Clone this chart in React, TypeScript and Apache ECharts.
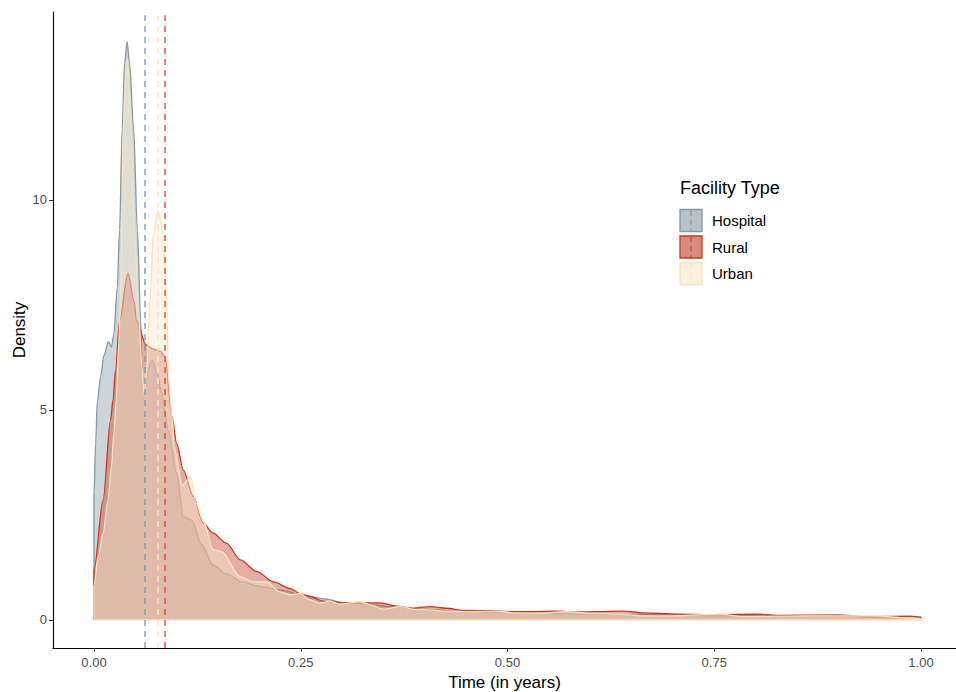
import React, { useEffect, useRef } from "react";
import * as echarts from "echarts";

// ---- data ----
const facilityTypes = ["Hospital", "Rural", "Urban"];

const hospitalX = [0, 0, 0.002, 0.004, 0.008, 0.012, 0.0175, 0.021, 0.024, 0.028, 0.031, 0.034, 0.037, 0.04, 0.043, 0.048, 0.0524, 0.0565, 0.058, 0.0605, 0.065, 0.07, 0.076, 0.082, 0.09, 0.1, 0.108, 0.118, 0.13, 0.144, 0.16, 0.18, 0.2, 0.23, 0.25, 0.28, 0.3, 0.33, 0.36, 0.4, 0.45, 0.5, 0.55, 0.6, 0.65, 0.7, 0.75, 0.8, 0.85, 0.9, 0.95, 1, 1];
const hospitalY = [0, 3.0, 4.2, 5.2, 5.8, 6.3, 6.63, 6.5, 6.8, 7.9, 9.3, 11.67, 13.26, 13.77, 13.26, 11.67, 9.29, 7.14, 5.95, 5.36, 5.9, 6.2, 5.9, 5.4, 4.5, 3.5, 2.46, 2.38, 1.8, 1.31, 1.1, 0.9, 0.8, 0.7, 0.6, 0.5, 0.42, 0.38, 0.32, 0.25, 0.2, 0.18, 0.15, 0.14, 0.13, 0.12, 0.1, 0.1, 0.09, 0.1, 0.06, 0.03, 0];

const ruralX = [0, 0, 0.011, 0.02, 0.023, 0.026, 0.031, 0.041, 0.049, 0.051, 0.063, 0.072, 0.08, 0.0859, 0.0943, 0.1, 0.108, 0.12, 0.132, 0.144, 0.16, 0.177, 0.197, 0.217, 0.237, 0.249, 0.261, 0.277, 0.298, 0.318, 0.346, 0.366, 0.386, 0.406, 0.426, 0.447, 0.479, 0.503, 0.527, 0.559, 0.584, 0.608, 0.64, 0.664, 0.705, 0.745, 0.802, 0.826, 0.898, 0.938, 0.987, 1, 1];
const ruralY = [0, 1.2, 2.86, 4.76, 5.24, 5.95, 7.14, 8.26, 7.55, 7.14, 6.55, 6.45, 6.4, 6.27, 4.85, 4.2, 3.57, 2.94, 2.31, 2.07, 1.83, 1.43, 1.15, 0.91, 0.75, 0.63, 0.56, 0.45, 0.41, 0.41, 0.41, 0.33, 0.28, 0.32, 0.28, 0.23, 0.22, 0.2, 0.2, 0.21, 0.19, 0.2, 0.21, 0.17, 0.14, 0.13, 0.14, 0.11, 0.12, 0.08, 0.09, 0.07, 0];

const urbanX = [0, 0, 0.005, 0.011, 0.017, 0.021, 0.024, 0.027, 0.03, 0.0323, 0.034, 0.0354, 0.0378, 0.0405, 0.045, 0.0491, 0.0544, 0.058, 0.0605, 0.064, 0.0677, 0.0717, 0.0774, 0.0838, 0.0879, 0.09, 0.095, 0.0967, 0.1068, 0.117, 0.1236, 0.1318, 0.1442, 0.1543, 0.1765, 0.193, 0.209, 0.225, 0.237, 0.249, 0.261, 0.273, 0.285, 0.297, 0.322, 0.334, 0.35, 0.37, 0.39, 0.406, 0.426, 0.455, 0.487, 0.507, 0.543, 0.572, 0.6, 0.636, 0.66, 0.7, 0.757, 0.785, 0.866, 0.938, 1, 1];
const urbanY = [0, 0.83, 1.5, 2.07, 2.86, 3.64, 4.45, 5.24, 6.6, 8.0, 10.0, 11.67, 12.86, 13.38, 11.67, 9.29, 7.14, 6.0, 5.36, 6.0, 7.62, 9.2, 9.76, 9.2, 7.62, 5.71, 4.8, 4.13, 3.21, 3.41, 2.78, 2.38, 1.67, 1.63, 1.03, 0.91, 0.91, 0.67, 0.6, 0.63, 0.48, 0.4, 0.45, 0.38, 0.44, 0.36, 0.26, 0.32, 0.25, 0.24, 0.21, 0.2, 0.21, 0.17, 0.16, 0.2, 0.16, 0.14, 0.1, 0.1, 0.14, 0.08, 0.1, 0.1, 0.03, 0];

// mean lines (dashed verticals)
const meanValues = [0.0617, 0.0859, 0.0774];

const xTicks = [0, 0.25, 0.5, 0.75, 1];
const yTicks = [0, 5, 10];

// ---- styles ----
const lineColors = ["#8799A3", "#C83A22", "#F6E4C0"];
const fillColors = ["rgba(133,157,167,0.6)", "rgba(201,88,71,0.7)", "rgba(249,233,204,0.63)"];
const meanColors = ["#7F9AAA", "#E04A33", "#F6E7C6"];
const FONT = "Liberation Sans, Arial, Helvetica, sans-serif";

const X_MIN = -0.04958;
const X_MAX = 1.04232;
const Y_MIN = -0.6667;
const Y_MAX = 14.476;

function zip(xs: number[], ys: number[]) {
  return xs.map((x, i) => [x, ys[i]]);
}

export default function App() {
  const ref = useRef<HTMLDivElement>(null);
  useEffect(() => {
    if (!ref.current) return;
    const chart = echarts.init(ref.current, undefined, { renderer: "svg" });
    const dens = [zip(hospitalX, hospitalY), zip(ruralX, ruralY), zip(urbanX, urbanY)];

    const densitySeries = facilityTypes.map((name, i) => ({
      name,
      type: "line",
      data: dens[i],
      smooth: 0.3,
      smoothMonotone: "x",
      symbol: "none",
      z: 2 + i,
      lineStyle: { color: lineColors[i], width: 1.3 },
      areaStyle: { color: fillColors[i], origin: 0 },
      silent: true,
    }));

    const meanSeries = facilityTypes.map((name, i) => ({
      name: name + " mean",
      type: "line",
      data: [
        [meanValues[i], Y_MIN],
        [meanValues[i], Y_MAX - 0.08],
      ],
      symbol: "none",
      z: 6,
      lineStyle: { color: meanColors[i], width: 1.4, type: [6, 5] },
      silent: true,
    }));

    const baseSeries = {
      name: "base",
      type: "line",
      data: [
        [0, 0],
        [1, 0],
      ],
      symbol: "none",
      z: 5,
      lineStyle: { color: lineColors[2], width: 1.3 },
      silent: true,
    };

    const keyY = [209.5, 236, 262.5];
    const legendGraphics: any[] = [
      {
        type: "text",
        left: 680,
        top: 179,
        style: { text: "Facility Type", font: `18px ${FONT}`, fill: "#000" },
      },
    ];
    facilityTypes.forEach((name, i) => {
      legendGraphics.push({
        type: "rect",
        shape: { x: 680, y: keyY[i], width: 22, height: 22 },
        style: { fill: fillColors[i], stroke: lineColors[i], lineWidth: 1.3 },
      });
      legendGraphics.push({
        type: "line",
        shape: { x1: 691, y1: keyY[i] + 1, x2: 691, y2: keyY[i] + 21 },
        style: { stroke: meanColors[i], lineWidth: 1.3, lineDash: [5, 4] },
      });
      legendGraphics.push({
        type: "text",
        x: 712,
        y: keyY[i] + 11,
        style: {
          text: name,
          font: `15px ${FONT}`,
          fill: "#000",
          verticalAlign: "middle",
          align: "left",
        },
      });
    });

    chart.setOption({
      animation: false,
      backgroundColor: "#ffffff",
      textStyle: { fontFamily: FONT },
      grid: { left: 53, right: 0, top: 12, bottom: 44, containLabel: false, outerBoundsMode: "none" },
      xAxis: {
        type: "value",
        min: X_MIN,
        max: X_MAX,
        name: "Time (in years)",
        nameLocation: "middle",
        nameGap: 25,
        nameTextStyle: { fontSize: 17, color: "#000", fontFamily: FONT },
        axisLine: { show: true, onZero: false, lineStyle: { color: "#000", width: 1.1 } },
        axisTick: { show: true, length: 4, lineStyle: { color: "#333", width: 1 }, customValues: xTicks },
        axisLabel: {
          customValues: xTicks,
          formatter: (v: number) => v.toFixed(2),
          fontSize: 13,
          color: "#4D4D4D",
          margin: 8,
          fontFamily: FONT,
        },
        splitLine: { show: false },
      },
      yAxis: {
        type: "value",
        min: Y_MIN,
        max: Y_MAX,
        name: "Density",
        nameLocation: "middle",
        nameGap: 25,
        nameMoveOverlap: false,
        nameTextStyle: { fontSize: 17, color: "#000", fontFamily: FONT },
        axisLine: { show: true, onZero: false, lineStyle: { color: "#000", width: 1.1 } },
        axisTick: { show: true, length: 4, lineStyle: { color: "#333", width: 1 }, customValues: yTicks },
        axisLabel: {
          customValues: yTicks,
          formatter: (v: number) => String(v),
          fontSize: 13,
          color: "#4D4D4D",
          margin: 6,
          fontFamily: FONT,
        },
        splitLine: { show: false },
      },
      graphic: legendGraphics,
      series: [...densitySeries, baseSeries, ...meanSeries],
    });
    return () => chart.dispose();
  }, []);

  return (
    <div
      ref={ref}
      style={{ position: "fixed", left: 0, top: 0, width: 956, height: 692, background: "#fff" }}
    />
  );
}
